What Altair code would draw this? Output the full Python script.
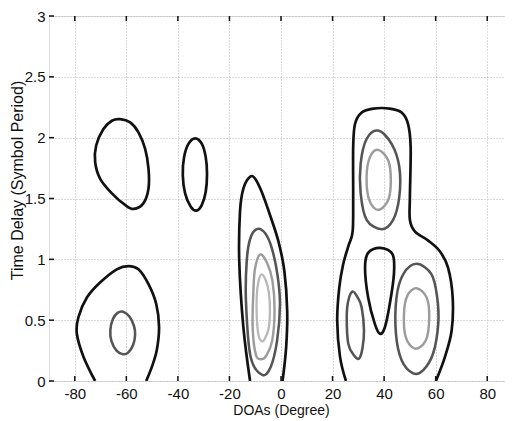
import altair as alt
import pandas as pd

# ---- axis ticks ----
x_ticks = [-80, -60, -40, -20, 0, 20, 40, 60, 80]
y_ticks = [0, 0.5, 1, 1.5, 2, 2.5, 3]

# ---- contour outlines (DOA deg, delay) ----
# left upper black loop
a_x = [-62.4, -58.5, -55.3, -52.7, -51.4, -51.4, -53.4, -57.2, -60.5, -65.6, -70.2, -72.1, -71.7, -68.9, -65.6]
a_y = [2.152, 2.125, 2.044, 1.908, 1.745, 1.582, 1.460, 1.414, 1.447, 1.542, 1.664, 1.800, 1.936, 2.071, 2.139]
# small black ellipse near -32
b_x = [-33.3, -30.7, -29.2, -28.7, -29.2, -30.7, -32.7, -35.0, -37.2, -38.1, -37.6, -35.9]
b_y = [1.995, 1.949, 1.840, 1.704, 1.555, 1.447, 1.401, 1.433, 1.542, 1.691, 1.840, 1.949]
# left lower black (open at bottom)
c1_x = [-72.1, -76.6, -79.2, -78.6, -75.3, -70.2, -63.7, -59.2, -55.3, -51.4, -48.4, -47.3, -48.2, -50.1, -52.3]
c1_y = [0.0, 0.198, 0.388, 0.524, 0.686, 0.809, 0.918, 0.945, 0.918, 0.796, 0.633, 0.442, 0.252, 0.116, 0.0]
# left lower gray ellipse
c2_x = [-61.3, -58.8, -57.0, -56.6, -57.3, -59.2, -61.3, -63.8, -65.8, -66.2, -65.2, -63.4]
c2_y = [0.57, 0.53, 0.45, 0.38, 0.30, 0.235, 0.22, 0.25, 0.33, 0.42, 0.51, 0.56]
# centre group
d1_x = [-12.0, -14.6, -16.2, -15.9, -14.6, -12.0, -10.1, -7.5, -4.3, -1.0, 1.3, 2.4, 2.0, 0.6]
d1_y = [0.0, 0.442, 0.985, 1.393, 1.582, 1.678, 1.664, 1.555, 1.366, 1.148, 0.904, 0.578, 0.279, 0.0]
d2_x = [-9.4, -6.2, -3.6, -1.4, -0.4, -1.5, -4.0, -7.3, -11.8, -13.6, -13.3, -12.0]
d2_y = [1.248, 1.216, 1.094, 0.877, 0.633, 0.334, 0.116, 0.05, 0.20, 0.660, 0.985, 1.165]
d3_x = [-8.1, -5.4, -3.3, -2.5, -3.4, -5.6, -7.4, -9.7, -11.0, -10.7, -10.1]
d3_y = [1.040, 0.969, 0.822, 0.578, 0.334, 0.212, 0.18, 0.212, 0.442, 0.741, 0.920]
d4_x = [-7.5, -5.8, -4.7, -4.3, -4.8, -6.2, -7.4, -8.7, -9.4, -9.4, -8.7]
d4_y = [0.877, 0.822, 0.725, 0.578, 0.432, 0.350, 0.326, 0.375, 0.524, 0.700, 0.822]
# right group
e1_x = [25.2, 22.9, 21.8, 22.6, 24.1, 26.1, 27.8, 28.0, 28.0, 28.7, 31.3, 35.8, 42.2, 46.8, 49.3, 50.3,
        50.0, 50.0, 51.9, 57.0, 61.6, 64.8, 66.6, 66.2, 63.6, 60.1]
e1_y = [0.0, 0.198, 0.497, 0.768, 0.958, 1.107, 1.230, 1.515, 1.922, 2.112, 2.207, 2.239, 2.239, 2.207, 2.112, 1.922,
        1.515, 1.325, 1.230, 1.156, 1.067, 0.931, 0.686, 0.415, 0.198, 0.0]
e2_x = [37.7, 42.9, 45.9, 45.9, 43.5, 39.0, 33.2, 30.9, 30.9, 33.2]
e2_y = [2.058, 1.949, 1.759, 1.515, 1.325, 1.248, 1.325, 1.542, 1.786, 1.989]
e3_x = [37.7, 41.6, 42.6, 41.6, 37.7, 34.2, 33.2, 34.5]
e3_y = [1.900, 1.813, 1.651, 1.488, 1.406, 1.488, 1.678, 1.840]
e4_x = [38.4, 43.3, 43.8, 42.2, 40.3, 38.4, 36.4, 33.8, 32.6, 33.8]
e4_y = [1.094, 1.040, 0.877, 0.633, 0.442, 0.388, 0.470, 0.686, 0.931, 1.053]
e5_x = [27.8, 29.8, 31.3, 32.2, 31.6, 30.3, 28.3, 26.1, 25.5, 26.1]
e5_y = [0.735, 0.684, 0.605, 0.415, 0.269, 0.185, 0.212, 0.307, 0.524, 0.660]
e6_x = [52.6, 58.4, 60.6, 61.0, 59.0, 55.2, 51.3, 46.8, 44.6, 44.8, 47.4]
e6_y = [0.963, 0.877, 0.686, 0.470, 0.226, 0.090, 0.063, 0.171, 0.388, 0.686, 0.877]
e7_x = [52.6, 56.5, 57.5, 56.2, 51.9, 48.4, 47.7, 49.0]
e7_y = [0.763, 0.686, 0.524, 0.334, 0.266, 0.361, 0.551, 0.700]

closed = [("a", 1, a_x, a_y), ("b", 1, b_x, b_y), ("c2", 2, c2_x, c2_y),
          ("d2", 2, d2_x, d2_y), ("d3", 3, d3_x, d3_y), ("d4", 4, d4_x, d4_y),
          ("e2", 2, e2_x, e2_y), ("e3", 3, e3_x, e3_y), ("e4", 1, e4_x, e4_y),
          ("e5", 2, e5_x, e5_y), ("e6", 2, e6_x, e6_y), ("e7", 3, e7_x, e7_y)]
opened = [("c1", 1, c1_x, c1_y), ("d1", 1, d1_x, d1_y), ("e1", 1, e1_x, e1_y)]


def frame(items):
    rows = []
    for name, lvl, xs, ys in items:
        for i, (x, y) in enumerate(zip(xs, ys)):
            rows.append({"id": name, "level": lvl, "i": i, "x": x, "y": y})
    return pd.DataFrame(rows)


df_closed = frame(closed)
df_open = frame(opened)

W, H = 464, 365
xscale = alt.Scale(domain=[-90, 90], nice=False, zero=False)
yscale = alt.Scale(domain=[0, 3], nice=False, zero=False)
cscale = alt.Scale(domain=[1, 2, 3, 4], range=["#111111", "#555555", "#9c9c9c", "#b8b8b8"])
wscale = alt.Scale(domain=[1, 2, 3, 4], range=[2.7, 2.3, 2.3, 2.3])

font = "Liberation Sans"
xaxis = alt.Axis(values=x_ticks, title="DOAs (Degree)", labelExpr="datum.value + ''",
                 grid=True, gridDash=[1, 2], gridColor="#b5b5b5", gridWidth=1,
                 domain=False, ticks=False, labelPadding=5, labelFontSize=15,
                 labelFont=font, labelColor="#111", titleFont=font, titleFontSize=14,
                 titleFontWeight="normal", titleColor="#111", titlePadding=2)
yaxis = alt.Axis(values=y_ticks, title="Time Delay (Symbol Period)", labelExpr="datum.value + ''",
                 grid=True, gridDash=[1, 2], gridColor="#b5b5b5", gridWidth=1,
                 domain=False, ticks=False, labelPadding=4, labelFontSize=15,
                 labelFont=font, labelColor="#111", titleFont=font, titleFontSize=16,
                 titleFontWeight="normal", titleColor="#111",
                 titleX=-24, titleY=164, titleBaseline="bottom", titleAngle=270)

base_closed = alt.Chart(df_closed).mark_line(interpolate="cardinal-closed", clip=True).encode(
    x=alt.X("x:Q", scale=xscale, axis=xaxis),
    y=alt.Y("y:Q", scale=yscale, axis=yaxis),
    detail="id:N",
    order="i:Q",
    color=alt.Color("level:O", scale=cscale, legend=None),
    strokeWidth=alt.StrokeWidth("level:O", scale=wscale, legend=None),
)
base_open = alt.Chart(df_open).mark_line(interpolate="cardinal", clip=True).encode(
    x=alt.X("x:Q", scale=xscale),
    y=alt.Y("y:Q", scale=yscale),
    detail="id:N",
    order="i:Q",
    color=alt.Color("level:O", scale=cscale, legend=None),
    strokeWidth=alt.StrokeWidth("level:O", scale=wscale, legend=None),
)

xt = pd.DataFrame({"t": x_ticks})
yt = pd.DataFrame({"t": y_ticks})
tick_style = dict(color="#111", strokeWidth=1.5)
top_ticks = alt.Chart(xt).mark_rule(**tick_style).encode(
    x=alt.X("t:Q", scale=xscale), y=alt.value(0), y2=alt.value(5))
bot_ticks = alt.Chart(xt).mark_rule(**tick_style).encode(
    x=alt.X("t:Q", scale=xscale), y=alt.value(H - 5), y2=alt.value(H))
left_ticks = alt.Chart(yt).mark_rule(**tick_style).encode(
    y=alt.Y("t:Q", scale=yscale), x=alt.value(0), x2=alt.value(5))
right_ticks = alt.Chart(yt).mark_rule(**tick_style).encode(
    y=alt.Y("t:Q", scale=yscale), x=alt.value(W - 5), x2=alt.value(W))

chart = alt.layer(base_closed, base_open, top_ticks, bot_ticks, left_ticks, right_ticks).properties(
    width=W, height=H,
    autosize=alt.AutoSizeParams(type="none"),
    padding={"left": 41, "top": 8, "right": -8, "bottom": 40},
).configure_view(stroke="#111", strokeWidth=1.6).configure(background="white")

chart.save("out.html", embed_options={"renderer": "svg", "actions": False})
